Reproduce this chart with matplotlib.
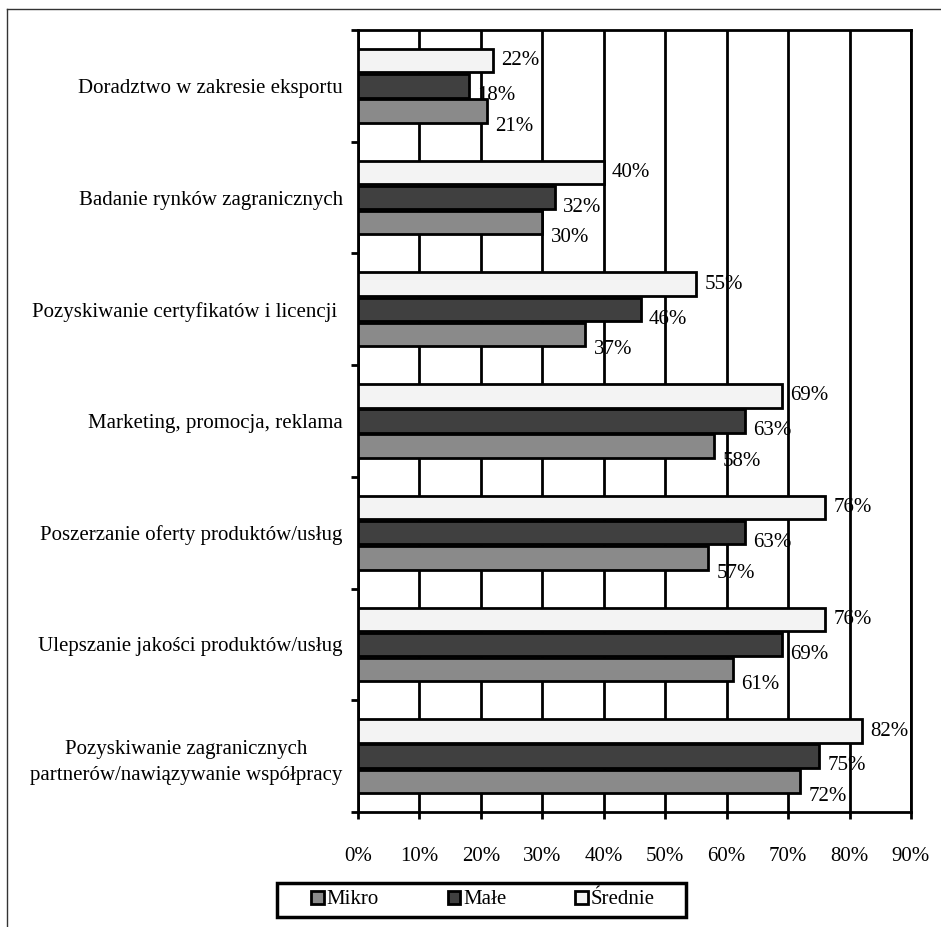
import numpy as np
import matplotlib.pyplot as plt
from matplotlib.lines import Line2D
from matplotlib.patches import Patch, Rectangle

plt.rcParams['font.family'] = ['Liberation Serif', 'DejaVu Serif']
FS = 15

# categories, top to bottom
categories = ['Doradztwo w zakresie eksportu',
              'Badanie rynków zagranicznych',
              'Pozyskiwanie certyfikatów i licencji ',
              'Marketing, promocja, reklama',
              'Poszerzanie oferty produktów/usług',
              'Ulepszanie jakości produktów/usług',
              'Pozyskiwanie zagranicznych\npartnerów/nawiązywanie współpracy']

# shares in percent
srednie = [22, 40, 55, 69, 76, 76, 82]
male = [18, 32, 46, 63, 63, 69, 75]
mikro = [21, 30, 37, 58, 57, 61, 72]

x_ticks = [0, 10, 20, 30, 40, 50, 60, 70, 80, 90]

fig = plt.figure(figsize=(9.41, 9.27), dpi=100)
ax = fig.add_axes([358/941, 1-812/927, (911-358)/941, (812-30)/927])

y = np.arange(len(categories))
h = 0.21
off = 0.225
lw = 2.0
# (values, colour, bar offset, label drop in points)
series = [(srednie, '#f3f3f3', -off, 0), (male, '#404040', 0, -7), (mikro, '#8a8a8a', off, -11)]
for vals, col, dy, drop in series:
    bars = ax.barh(y + dy, vals, height=h, color=col, edgecolor='black', linewidth=lw, zorder=3)
    for b, v in zip(bars, vals):
        ax.annotate(f'{v}%', (v, b.get_y() + b.get_height()/2), xytext=(6, drop),
                    textcoords='offset points', ha='left', va='center', fontsize=FS, zorder=4)

ax.set_xlim(0, 90)
ax.set_ylim(len(categories) - 0.5, -0.5)
ax.set_xticks(x_ticks)
ax.set_xticklabels([f'{t}%' for t in x_ticks], fontsize=FS)
ax.xaxis.grid(True, color='black', linewidth=lw, zorder=0)
ax.set_axisbelow(True)

ax.set_yticks(y)
ax.set_yticklabels(categories, fontsize=FS, multialignment='center', linespacing=1.55)
ax.tick_params(axis='y', which='major', length=0, pad=11)
ax.set_yticks(np.arange(-0.5, len(categories)), minor=True)
ax.tick_params(axis='y', which='minor', length=5, width=lw, direction='out')
ax.tick_params(axis='x', length=5, width=lw, direction='out', pad=20)

for s in ax.spines.values():
    s.set_linewidth(lw)
    s.set_color('black')

# legend with a plain box around it
handles = [Patch(facecolor='#8a8a8a', edgecolor='black', linewidth=lw, label='Mikro'),
           Patch(facecolor='#404040', edgecolor='black', linewidth=lw, label='Małe'),
           Patch(facecolor='#f3f3f3', edgecolor='black', linewidth=lw, label='Średnie')]
fig.legend(handles=handles, loc='center', ncol=3, bbox_to_anchor=(483/941, 1-900/927),
           fontsize=FS, frameon=False, handlelength=0.6, handleheight=0.6,
           handletextpad=0.15, columnspacing=3.3, borderpad=0, borderaxespad=0)
fig.add_artist(Rectangle((277/941, 1-917/927), 409/941, 34/927, transform=fig.transFigure,
                         fill=False, edgecolor='black', linewidth=2.5))

# outer frame
fig.add_artist(Line2D([7/941, 7/941], [0, 1-9/927], color='#333333', linewidth=1))
fig.add_artist(Line2D([7/941, 1], [1-9/927, 1-9/927], color='#333333', linewidth=1))

fig.savefig('out.png', dpi=100)
